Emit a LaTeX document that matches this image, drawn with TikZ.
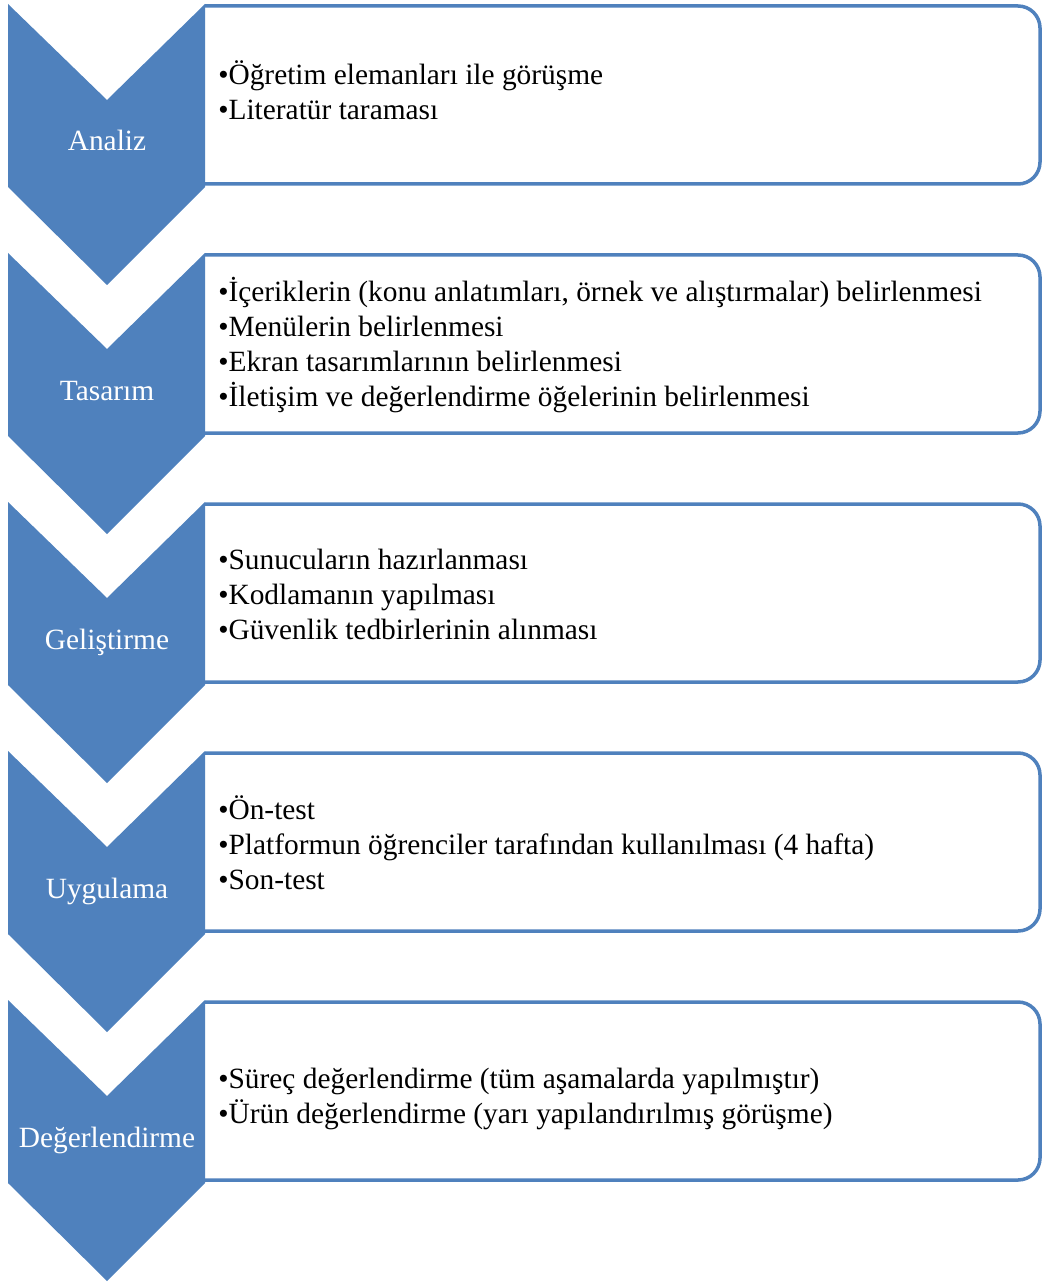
\documentclass[tikz,border=0pt]{standalone}
\usepackage{fontspec}
\setmainfont{Liberation Serif}
\usepackage{xcolor}
\definecolor{stepblue}{RGB}{79, 129, 189}

\begin{document}
\begin{tikzpicture}[x=0.025cm, y=-0.025cm,
    chevron/.style={fill=stepblue},
    itembox/.style={draw=stepblue, fill=white, line width=3.5*0.025cm, rounded corners=22*0.025cm},
    phaselabel/.style={text=white, anchor=base, inner sep=0pt, font=\fontsize{20.9}{24.9}\selectfont},
    itemlist/.style={anchor=west, align=left, inner sep=0pt, font=\fontsize{20.9}{24.9}\selectfont}]
    \useasboundingbox (0,0) rectangle (1043,1286);
    \foreach \lab/\dy/\items [count=\i from 0] in {
        Analiz/86/{•Öğretim elemanları ile görüşme\\•Literatür taraması},
        Tasarım/92/{•İçeriklerin (konu anlatımları, örnek ve alıştırmalar) belirlenmesi\\•Menülerin belirlenmesi\\•Ekran tasarımlarının belirlenmesi\\•İletişim ve değerlendirme öğelerinin belirlenmesi},
        Geliştirme/92/{•Sunucuların hazırlanması\\•Kodlamanın yapılması\\•Güvenlik tedbirlerinin alınması},
        Uygulama/92/{•Ön-test\\•Platformun öğrenciler tarafından kullanılması (4 hafta)\\•Son-test},
        Değerlendirme/99/{•Süreç değerlendirme (tüm aşamalarda yapılmıştır)\\•Ürün değerlendirme (yarı yapılandırılmış görüşme)}} {
      \pgfmathsetmacro{\t}{4+249*\i}
      % box on the right, open on its left side
      \draw[itembox] (205,\t+2) -- (1040,\t+2) -- (1040,\t+180) -- (205,\t+180);
      \node[itemlist] (items\i) at (218,\t+\dy) {\items};
      % chevron on the left
      \fill[chevron] (8,\t) -- (107,\t+96) -- (205,\t) -- (205,\t+183) -- (107,\t+281) -- (8,\t+183) -- cycle;
      \node[phaselabel] (phase\i) at (107,\t+147) {\lab};
    }
\end{tikzpicture}
\end{document}
